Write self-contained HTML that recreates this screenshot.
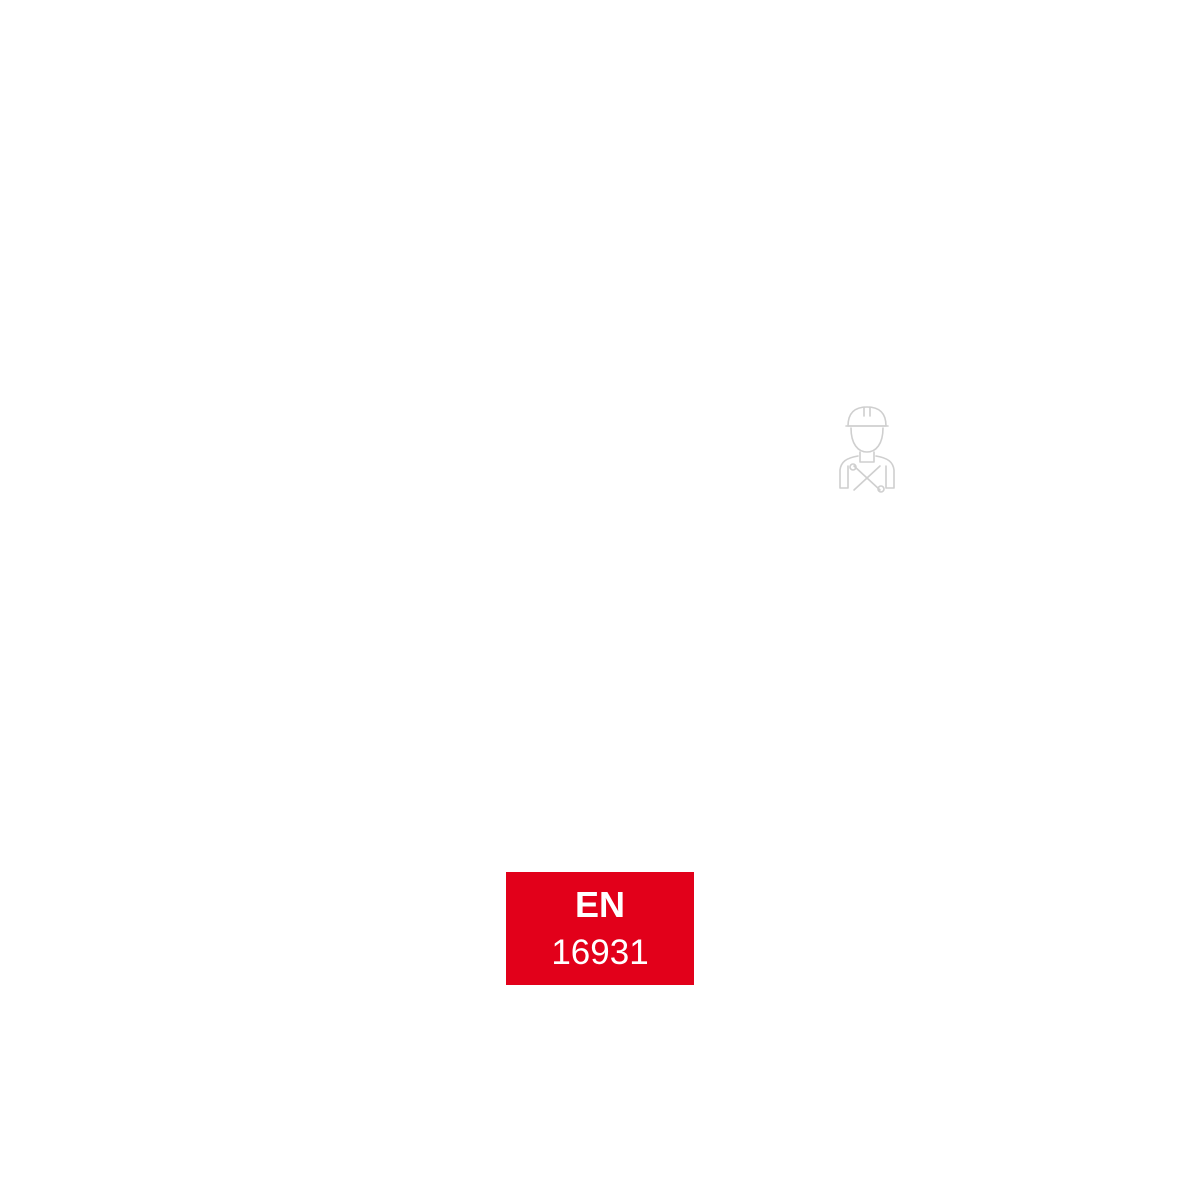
<!DOCTYPE html>
<html><head><style>
html,body{margin:0;padding:0;background:#fff;}
body{width:1193px;height:1193px;position:relative;overflow:hidden;font-family:"Liberation Sans",sans-serif;}
.box{position:absolute;left:506px;top:872px;width:188px;height:113px;background:#e2001a;color:#fff;text-align:center;}
.en{position:absolute;left:0;width:100%;top:12px;font-size:36px;font-weight:bold;line-height:42px;}
.num{position:absolute;left:0;width:100%;top:60px;font-size:35px;line-height:42px;}
svg{position:absolute;left:836px;top:404px;}
</style></head><body>
<svg width="64" height="90" viewBox="0 0 64 90" fill="none" stroke="#cfcfcf" stroke-width="1.6" stroke-linecap="round" stroke-linejoin="round">
<path d="M12 22 C12 8 20 3 31 3 C42 3 50 8 50 22 Z"/>
<path d="M28 3 V12 M34 3 V12"/>
<path d="M10 22 H52"/>
<path d="M15 24 C15 40 22 48 31 48 C40 48 47 40 47 24"/>
<path d="M24 48 V58 H38 V48"/>
<path d="M22 52 C10 54 5 58 4 66 V84 H12 V62"/>
<path d="M40 52 C52 54 57 58 58 66 V84 H50 V62"/>
<path d="M18 62 L44 86 M44 62 L18 86"/>
<circle cx="17" cy="63" r="3"/><circle cx="45" cy="85" r="3"/>
</svg>
<div class="box"><div class="en">EN</div><div class="num">16931</div></div>
</body></html>
